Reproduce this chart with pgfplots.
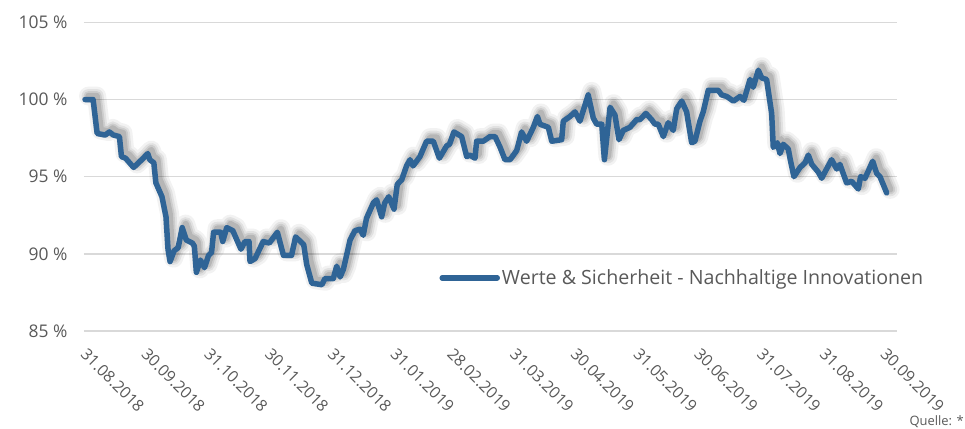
\documentclass[border=0pt]{standalone}
\usepackage{pgfplots}
\pgfplotsset{compat=1.18}
\usepackage{pgfplotstable}
\usepackage{fontspec}
\setmainfont{Open Sans}
\definecolor{linecol}{HTML}{2F6496}
\definecolor{txt}{HTML}{595959}
\definecolor{gridc}{HTML}{D9D9D9}
\pgfplotstableread{
d v
0 100
4 100
6 97.8
10 97.7
12 97.9
14 97.7
17 97.6
18 96.3
20 96.2
24 95.6
28 96.1
31 96.5
32 96.1
34 95.9
35 94.6
38 93.7
40 92.4
41 90.3
42 89.5
44 90.2
46 90.4
48 91.7
50 90.9
53 90.7
54 90.5
55 88.8
57 89.6
59 89.1
61 89.9
62.5 90.1
63.5 91.4
67 91.4
68 90.8
70 91.7
73 91.5
77 90.3
79 90.8
81 90.8
81.5 89.5
84 89.7
88 90.8
91 90.7
95 91.4
98 89.9
102 89.9
104 91.1
108 90.6
109.5 89.3
112 88.1
117 88.0
118.5 88.4
122.6 88.4
124.3 89.2
126 88.5
127.6 89.0
130.9 90.9
133.3 91.5
135.8 91.6
137.4 91.2
139 92.3
142.4 93.3
144 93.5
146.5 92.4
148 93.3
150 93.7
152.6 92.9
154.2 94.5
156.4 94.8
158.8 95.7
160.5 96.1
162 95.7
165.4 96.3
168.7 97.3
172 97.3
175 96.2
178.6 97.0
180 97.1
182.2 97.9
186 97.6
188.5 96.3
190 96.4
192.6 96.2
193.4 97.3
196.7 97.3
200 97.6
202.5 97.6
205 96.9
207.4 96.1
209.9 96.1
213.2 96.7
215.6 97.9
218.1 97.3
221.4 98.2
223.4 98.9
224.7 98.4
228.8 98.2
230.5 97.3
235.4 97.4
236.2 98.6
239.5 98.9
242 99.2
244.4 98.6
248.5 100.3
251 98.8
252.7 98.4
255.2 98.4
256.5 96.1
259.3 99.5
261.7 99.0
263.7 97.4
265.8 98.0
269.1 98.2
272.4 98.7
274 98.7
277 99.1
279.8 98.7
281.5 98.4
283.1 98.4
285.6 97.6
288 98.5
290.5 98.0
292.2 99.4
294.7 99.9
297.1 99.2
299.6 97.2
301.2 97.3
303.7 98.6
305.3 99.2
307.8 100.6
310.3 100.6
312.7 100.6
314.4 100.3
316.9 100.2
320.2 99.9
323.5 100.2
325.4 99.95
328.4 101.3
330 100.8
332.5 101.9
334.2 101.4
336.6 101.3
339.1 99.1
339.9 96.9
341.9 97.2
343.2 96.5
344.8 97.1
347.3 96.8
348.3 96.1
350.1 95.0
353.1 95.6
355.6 95.9
357.2 96.4
358.9 95.8
362.1 95.3
363.8 94.9
365.4 95.3
368.7 96.1
371.2 95.5
372.8 95.8
376.1 94.6
378.6 94.7
381.9 94.2
383 95.0
385.2 94.9
389 96.0
391 95.2
392.6 95.0
395.9 93.95
}\datatable
\begin{document}
\begin{tikzpicture}
\path (-84bp,-98bp) rectangle (881bp,331bp);
\begin{axis}[
  scale only axis,
  width=813bp, height=308.6bp,
  xmin=-0.5, xmax=401,
  ymin=85, ymax=105,
  axis line style={draw=none},
  major tick length=0pt,
  ytick={85,90,95,100,105},
  yticklabels={85 \%,90 \%,95 \%,100 \%,105 \%},
  xtick={0,30,61,91,122,153,181,212,242,273,303,334,365,395},
  xticklabels={31.08.2018,30.09.2018,31.10.2018,30.11.2018,31.12.2018,31.01.2019,28.02.2019,31.03.2019,30.04.2019,31.05.2019,30.06.2019,31.07.2019,31.08.2019,30.09.2019},
  ymajorgrids,
  grid style={gridc, line width=1.3bp},
  yticklabel style={font=\fontsize{17.5}{20}\selectfont, text=txt, anchor=east},
  yticklabel shift=13bp,
  xticklabel style={font=\fontsize{16}{18}\selectfont, text=txt, xshift=3bp, rotate=-45, anchor=north west, inner sep=0pt},
  xticklabel shift=16bp,
  clip=false,
  legend style={at={(0.437,0.172)}, anchor=west, draw=none, fill=none,
    font=\fontsize{19.7}{23}\selectfont, text=txt, inner sep=0pt},
  legend image code/.code={\draw[#1, line cap=round] (0bp,0bp) -- (55bp,0bp);},
]
\addplot[forget plot, draw=black, opacity=0.05, line width=19bp, line join=round, line cap=round, xshift=3.5bp, yshift=3.5bp] table[x=d,y=v] {\datatable};
\addplot[forget plot, draw=black, opacity=0.07, line width=14bp, line join=round, line cap=round, xshift=3.5bp, yshift=3.5bp] table[x=d,y=v] {\datatable};
\addplot[forget plot, draw=black, opacity=0.09, line width=10bp, line join=round, line cap=round, xshift=3.5bp, yshift=3.5bp] table[x=d,y=v] {\datatable};
\addplot[forget plot, draw=black, opacity=0.11, line width=6.5bp, line join=round, line cap=round, xshift=3.5bp, yshift=3.5bp] table[x=d,y=v] {\datatable};
\addplot[draw=linecol, line width=5.5bp, line join=round, line cap=round] table[x=d,y=v] {\datatable};
\addlegendentry{Werte \& Sicherheit - Nachhaltige Innovationen}
\end{axis}
\node[anchor=south east, inner sep=1bp, font=\fontsize{13}{15}\selectfont, text=txt] at (881bp,-98bp) {Quelle: *};
\end{tikzpicture}
\end{document}
